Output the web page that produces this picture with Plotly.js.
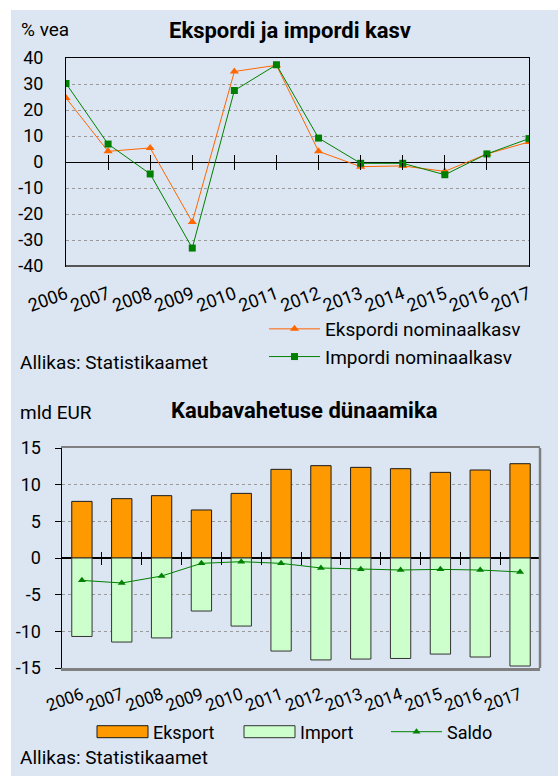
<!DOCTYPE html>
<html><head><meta charset="utf-8">
<script src="https://cdn.plot.ly/plotly-3.0.1.min.js"></script>
<style>
html,body{margin:0;padding:0;background:#fff;width:558px;height:776px;overflow:hidden}
#panel{position:absolute;left:11px;top:10px;width:547px;height:766px;background:#dce6f2}
#c1{position:absolute;left:0;top:0;width:558px;height:390px}
#c2{position:absolute;left:0;top:390px;width:558px;height:386px}
</style></head><body>
<div id="panel"></div><div id="c1"></div><div id="c2"></div>
<script>
// ---- data ----
const years = ['2006','2007','2008','2009','2010','2011','2012','2013','2014','2015','2016','2017'];
const eksportGrowth = [24.6, 4.1, 5.4, -23.1, 34.8, 37.2, 4.1, -1.8, -1.5, -3.6, 3.1, 7.7];
const importGrowth  = [30.2, 6.9, -4.6, -33.1, 27.5, 37.4, 9.2, -0.5, -0.5, -4.9, 3.1, 9.0];
const eksport = [7.72, 8.09, 8.5, 6.55, 8.81, 12.09, 12.59, 12.36, 12.18, 11.68, 12.0, 12.86];
const importValues = [-10.7, -11.46, -10.9, -7.23, -9.28, -12.69, -13.9, -13.78, -13.7, -13.1, -13.5, -14.73];
const saldo = [-3.05, -3.41, -2.46, -0.73, -0.5, -0.73, -1.36, -1.55, -1.64, -1.55, -1.64, -1.91];
const growthTicks = [-40, -30, -20, -10, 0, 10, 20, 30, 40];
const growthTickText = ['-40', '-30', '-20', '-10', '0', '10', '20', '30', '40'];
const valueTicks = [-15, -10, -5, 0, 5, 10, 15];
const valueTickText = ['-15', '-10', '-5', '0', '5', '10', '15'];

const FONT = 'Roboto, "Noto Sans", sans-serif';
const cfg = {displayModeBar:false, staticPlot:true};

// ---------- chart 1 ----------
(function(){
  const W=558, H=390, m={l:66, r:29, t:58, b:124, autoexpand:false};
  const pw=W-m.l-m.r, ph=H-m.t-m.b;
  const fx=px=>(px-m.l)/pw, fy=py=>(H-m.b-py)/ph;
  const n = years.length;
  const innerTicks = years.map((_,i)=>i).slice(1, n-1);
  const tickAxis = (dir)=>({overlaying:'x', anchor:'free', position:0.5, range:[0,n-1],
      tickmode:'array', tickvals:innerTicks, ticks:dir, ticklen:7, tickcolor:'#000', tickwidth:1,
      showticklabels:false, showgrid:false, zeroline:false, showline:false});
  const traces = [
    {type:'scatter', mode:'lines+markers', x:years, y:eksportGrowth, name:'Ekspordi nominaalkasv',
     line:{color:'#ff6600', width:1}, marker:{symbol:'triangle-up', size:8, color:'#ff6600'}},
    {type:'scatter', mode:'lines+markers', x:years, y:importGrowth, name:'Impordi nominaalkasv',
     line:{color:'#008000', width:1}, marker:{symbol:'square', size:7, color:'#008000'}},
    {type:'scatter', x:[], y:[], xaxis:'x2', showlegend:false, hoverinfo:'skip'},
    {type:'scatter', x:[], y:[], xaxis:'x3', showlegend:false, hoverinfo:'skip'}
  ];
  const layout = {
    width:W, height:H, margin:m, paper_bgcolor:'rgba(0,0,0,0)', plot_bgcolor:'rgba(0,0,0,0)',
    font:{family:FONT, size:18, color:'#000'},
    showlegend:true,
    legend:{x:fx(264), xanchor:'left', y:fy(310), yanchor:'top', bgcolor:'rgba(0,0,0,0)',
            font:{family:FONT, size:19, color:'#000'}, itemwidth:51, tracegroupgap:0},
    xaxis:{type:'category', categoryorder:'array', categoryarray:years, range:[0,n-1],
           showline:true, mirror:true, linecolor:'#000', linewidth:1, ticks:'', showgrid:false,
           zeroline:false, tickangle:-20, tickfont:{family:FONT, size:18, color:'#000'}, ticklabelstandoff:10},
    xaxis2:tickAxis('outside'),
    xaxis3:tickAxis('inside'),
    yaxis:{range:[-40,40], tickmode:'array', tickvals:growthTicks, ticktext:growthTickText,
           showgrid:true, gridcolor:'#9a9a9a', griddash:'dot', gridwidth:1,
           zeroline:true, zerolinecolor:'#000', zerolinewidth:1,
           showline:true, mirror:true, linecolor:'#000', linewidth:1, ticks:'',
           tickfont:{family:FONT, size:18, color:'#000'}, ticklabelstandoff:18},
    shapes:[{type:'line', xref:'paper', yref:'paper', x0:0, x1:1, y0:0, y1:0, line:{color:'#555', width:2}}],
    annotations:[
      {xref:'paper', yref:'paper', x:fx(290), y:fy(30), xanchor:'center', yanchor:'middle', showarrow:false,
       text:'<b>Ekspordi ja impordi kasv</b>', font:{family:FONT, size:22, color:'#000'}},
      {xref:'paper', yref:'paper', x:fx(19), y:fy(29), xanchor:'left', yanchor:'middle', showarrow:false,
       text:'% vea', font:{family:FONT, size:19, color:'#000'}},
      {xref:'paper', yref:'paper', x:fx(18), y:fy(362), xanchor:'left', yanchor:'middle', showarrow:false,
       text:'Allikas: Statistikaamet', font:{family:FONT, size:19, color:'#000'}}
    ]
  };
  Plotly.newPlot('c1', traces, layout, cfg);
})();

// ---------- chart 2 ----------
(function(){
  const W=558, H=386, m={l:62, r:18, t:58, b:108, autoexpand:false};
  const pw=W-m.l-m.r, ph=H-m.t-m.b;
  const fx=px=>(px-m.l)/pw, fy=py=>(H-m.b-py)/ph;
  const n = years.length;
  const bounds = years.map((_,i)=>i+0.5);
  const tickAxis = (dir)=>({overlaying:'x', anchor:'free', position:0.5, range:[-0.5,n-0.5],
      tickmode:'array', tickvals:bounds, ticks:dir, ticklen:6, tickcolor:'#000', tickwidth:1,
      showticklabels:false, showgrid:false, zeroline:false, showline:false});
  const traces = [
    {type:'bar', x:years, y:eksport, name:'Eksport', marker:{color:'#ff9900', line:{color:'#1a1a1a', width:1}}},
    {type:'bar', x:years, y:importValues, name:'Import', marker:{color:'#ccffcc', line:{color:'#333', width:1}}},
    {type:'scatter', mode:'lines+markers', x:years, y:saldo, name:'Saldo',
     line:{color:'#008000', width:1}, marker:{symbol:'triangle-up', size:7, color:'#008000'}},
    {type:'scatter', x:[], y:[], xaxis:'x2', showlegend:false, hoverinfo:'skip'},
    {type:'scatter', x:[], y:[], xaxis:'x3', showlegend:false, hoverinfo:'skip'}
  ];
  const layout = {
    width:W, height:H, margin:m, paper_bgcolor:'rgba(0,0,0,0)', plot_bgcolor:'rgba(0,0,0,0)',
    font:{family:FONT, size:18, color:'#000'},
    barmode:'relative', bargap:0.49,
    showlegend:true,
    legend:{orientation:'h', x:fx(92), xanchor:'left', y:fy(342), yanchor:'middle', bgcolor:'rgba(0,0,0,0)',
            font:{family:FONT, size:18, color:'#000'}, itemwidth:51, traceorder:'normal',
            entrywidth:81, entrywidthmode:'pixels'},
    xaxis:{type:'category', categoryorder:'array', categoryarray:years, range:[-0.5,n-0.5],
           showline:true, mirror:true, linecolor:'#808080', linewidth:2.5, ticks:'', showgrid:false,
           zeroline:false, tickangle:-20, tickfont:{family:FONT, size:17, color:'#000'}, ticklabelstandoff:8},
    xaxis2:tickAxis('outside'),
    xaxis3:tickAxis('inside'),
    yaxis:{range:[-15,15], tickmode:'array', tickvals:valueTicks, ticktext:valueTickText,
           showgrid:true, gridcolor:'#9a9a9a', griddash:'dot', gridwidth:1,
           zeroline:true, zerolinecolor:'#000', zerolinewidth:1.5,
           showline:true, mirror:false, linecolor:'#000', linewidth:1.5,
           ticks:'outside', ticklen:6, tickcolor:'#000', tickwidth:1,
           tickfont:{family:FONT, size:18, color:'#000'}, ticklabelstandoff:10},
    shapes:[{type:'line', xref:'paper', yref:'paper', x0:1, x1:1, y0:0, y1:1, line:{color:'#808080', width:2.5}}],
    annotations:[
      {xref:'paper', yref:'paper', x:fx(304), y:fy(21), xanchor:'center', yanchor:'middle', showarrow:false,
       text:'<b>Kaubavahetuse dünaamika</b>', font:{family:FONT, size:22, color:'#000'}},
      {xref:'paper', yref:'paper', x:fx(18), y:fy(23), xanchor:'left', yanchor:'middle', showarrow:false,
       text:'mld EUR', font:{family:FONT, size:19, color:'#000'}},
      {xref:'paper', yref:'paper', x:fx(18), y:fy(367), xanchor:'left', yanchor:'middle', showarrow:false,
       text:'Allikas: Statistikaamet', font:{family:FONT, size:19, color:'#000'}}
    ]
  };
  const widenBars = (gd)=>{
    gd.querySelectorAll('.legend .legendpoints path').forEach(p=>{
      const d = p.getAttribute('d') || '';
      if (/^M6,6H-6V-6H6Z/.test(d)) p.setAttribute('d','M25.5,6H-25.5V-6H25.5Z');
    });
  };
  Plotly.newPlot('c2', traces, layout, cfg).then(gd=>{
    widenBars(gd);
    gd.on('plotly_afterplot', ()=>widenBars(gd));
    setTimeout(()=>widenBars(gd), 50);
    setTimeout(()=>widenBars(gd), 300);
  });
})();
</script>
</body></html>
